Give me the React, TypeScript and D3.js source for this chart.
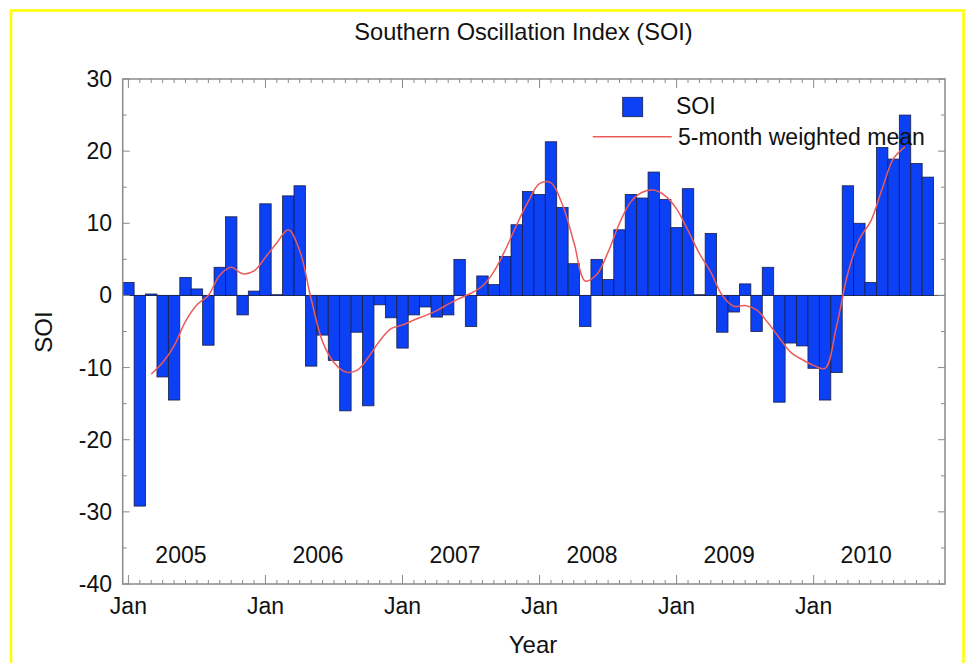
import React from "react";
import * as d3 from "d3";

// Monthly SOI values, Jan 2005 .. Nov 2010
const soiValues: number[] = [
  1.8, -29.2, 0.2, -11.3, -14.5, 2.5, 0.9, -6.9, 3.9, 10.9, -2.7, 0.6,
  12.7, 0.1, 13.8, 15.2, -9.8, -5.5, -9.0, -16.0, -5.1, -15.3, -1.3, -3.1,
  -7.3, -2.7, -1.6, -3.0, -2.7, 5.0, -4.3, 2.7, 1.5, 5.4, 9.8, 14.4,
  14.0, 21.3, 12.2, 4.4, -4.3, 5.0, 2.2, 9.1, 14.0, 13.5, 17.1, 13.3,
  9.4, 14.8, 0.1, 8.6, -5.1, -2.3, 1.6, -5.0, 3.9, -14.8, -6.6, -7.0,
  -10.1, -14.5, -10.7, 15.2, 10.0, 1.8, 20.5, 18.9, 25.0, 18.3, 16.4,
];

// 5-month weighted mean, Mar 2005 .. Sep 2010
const meanStart = 2;
const meanValues: number[] = [
  -10.9, -9.3, -7.0, -3.6, -1.3, 0.0, 2.8, 3.9, 3.0, 3.4,
  5.3, 7.3, 9.1, 6.2, -0.5, -6.4, -9.3, -10.6, -10.4, -8.6,
  -6.3, -4.6, -4.1, -3.4, -2.8, -2.1, -1.2, -0.4, 0.3, 1.3,
  3.3, 6.3, 9.8, 13.0, 15.5, 15.6, 12.6, 7.4, 2.0, 2.9,
  6.0, 10.0, 13.0, 14.3, 14.6, 13.8, 12.0, 9.0, 5.8, 3.2,
  0.0, -1.5, -1.4, -2.0, -3.8, -5.9, -7.9, -8.9, -9.7, -10.1,
  -4.3, 3.1, 7.8, 10.3, 14.8, 19.0, 20.6,
];

const years: string[] = ["2005", "2006", "2007", "2008", "2009", "2010"];
const yTicks: number[] = [30, 20, 10, 0, -10, -20, -30, -40];
const totalMonths = 72;

const W = 966;
const H = 663;
const FONT = "'Liberation Sans', Arial, Helvetica, sans-serif";

export default function App() {
  const left = 122.7, right = 945, top = 79, bottom = 584;
  const x = d3.scaleLinear().domain([-0.5, totalMonths - 0.5]).range([left, right]);
  const y = d3.scaleLinear().domain([-40, 30]).range([bottom, top]);

  const line = d3
    .line<number>()
    .x((_, i) => x(i + meanStart))
    .y((d) => y(d))
    .curve(d3.curveCatmullRom.alpha(0.5));

  const monthTicks = d3.range(0, totalMonths);
  const minorY = d3.range(-35, 30, 10);
  const axisColor = "#8a8a8a";

  return (
    <svg
      width={W}
      height={H}
      style={{ position: "absolute", left: 0, top: 0, background: "#fff" }}
      fontFamily={FONT}
    >
      <rect x={0} y={0} width={W} height={H} fill="#fff" />
      <rect x={11} y={10.5} width={952.5} height={670} fill="none" stroke="#ffff00" strokeWidth={2.6} />

      <text x={523.5} y={40} textAnchor="middle" fontSize={23.6} fill="#111">
        Southern Oscillation Index (SOI)
      </text>

      {/* zero line */}
      <line x1={left} x2={right} y1={y(0)} y2={y(0)} stroke="#555" strokeWidth={1} />

      {/* bars */}
      {soiValues.map((v, i) => {
        const y0 = y(Math.max(0, v));
        const y1 = y(Math.min(0, v));
        return (
          <rect
            key={i}
            x={x(i - 0.5)}
            y={y0}
            width={x(i + 0.5) - x(i - 0.5)}
            height={Math.max(0.5, y1 - y0)}
            fill="#0b40f4"
            stroke="#1b1f45"
            strokeWidth={0.8}
          />
        );
      })}

      {/* mean line */}
      <path d={line(meanValues) || ""} fill="none" stroke="#ec5a5a" strokeWidth={1.5} />

      {/* frame */}
      <rect x={left} y={top} width={right - left} height={bottom - top} fill="none" stroke={axisColor} strokeWidth={1.5} />

      {/* x ticks top/bottom */}
      {monthTicks.map((i) => {
        const len = i % 12 === 0 ? 9 : 4;
        return (
          <g key={"xt" + i} stroke={axisColor} strokeWidth={1}>
            <line x1={x(i)} x2={x(i)} y1={bottom} y2={bottom - len} />
            <line x1={x(i)} x2={x(i)} y1={top} y2={top + len} />
          </g>
        );
      })}

      {/* y ticks left/right */}
      {yTicks.map((t) => (
        <g key={"yt" + t} stroke={axisColor} strokeWidth={1}>
          <line x1={left} x2={left + 7} y1={y(t)} y2={y(t)} />
          <line x1={right} x2={right - 7} y1={y(t)} y2={y(t)} />
        </g>
      ))}
      {minorY.map((t) => (
        <g key={"ym" + t} stroke={axisColor} strokeWidth={1}>
          <line x1={left} x2={left + 4} y1={y(t)} y2={y(t)} />
          <line x1={right} x2={right - 4} y1={y(t)} y2={y(t)} />
        </g>
      ))}

      {/* y tick labels */}
      {yTicks.map((t) => (
        <text key={"yl" + t} x={112} y={y(t) + 8} textAnchor="end" fontSize={23} fill="#111">
          {t}
        </text>
      ))}

      {/* Jan labels */}
      {years.map((yr, k) => (
        <text key={"jan" + yr} x={x(k * 12)} y={614} textAnchor="middle" fontSize={23} fill="#111">
          Jan
        </text>
      ))}

      {/* year labels */}
      {years.map((yr, k) => (
        <text key={"yr" + yr} x={x(k * 12 + 4.6)} y={563} textAnchor="middle" fontSize={23} fill="#111">
          {yr}
        </text>
      ))}

      <text x={533} y={653} textAnchor="middle" fontSize={24} fill="#111">
        Year
      </text>
      <text transform={`translate(52,${332}) rotate(-90)`} textAnchor="middle" fontSize={24} fill="#111">
        SOI
      </text>

      {/* legend */}
      <rect x={622.7} y={97.3} width={20} height={19.4} fill="#0b40f4" stroke="#1b1f45" strokeWidth={0.8} />
      <text x={676} y={114} fontSize={23} fill="#111">
        SOI
      </text>
      <line x1={592.7} x2={671.7} y1={136.7} y2={136.7} stroke="#ec5a5a" strokeWidth={1.5} />
      <text x={678} y={145} fontSize={23} fill="#111">
        5-month weighted mean
      </text>
    </svg>
  );
}
